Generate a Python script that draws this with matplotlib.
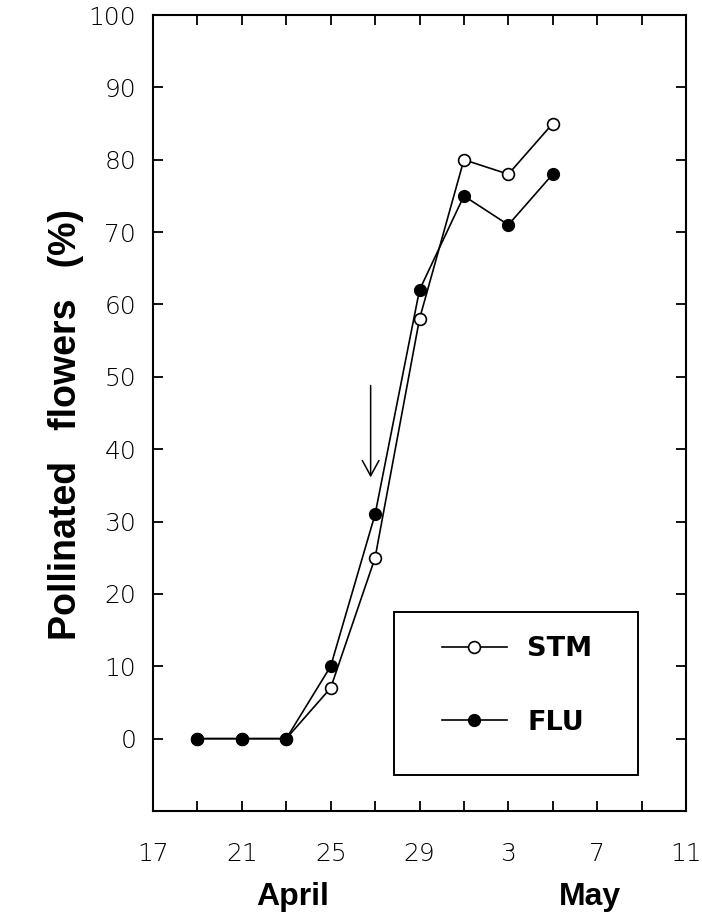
import matplotlib
matplotlib.use("Agg")
import matplotlib.pyplot as plt
import matplotlib.font_manager as fm
from matplotlib.lines import Line2D
from matplotlib.patches import Rectangle

# Day numbers counted from April (May 1 = 31)
days = [19, 21, 23, 25, 27, 29, 31, 33, 35]
stm = [0, 0, 0, 7, 25, 58, 80, 78, 85]
flu = [0, 0, 0, 10, 31, 62, 75, 71, 78]

xtick_major = [17, 21, 25, 29, 33, 37, 41]
xtick_labels = ["17", "21", "25", "29", "3", "7", "11"]
xtick_minor = [19, 23, 27, 31, 35, 39]
ytick_vals = [0, 10, 20, 30, 40, 50, 60, 70, 80, 90, 100]
series_names = ["STM", "FLU"]
month_names = ["April", "May"]
ylabel_text = "Pollinated   flowers   (%)"

arrow_x = 26.8
arrow_from = 48.8
arrow_to = 36.1

ylab_prop = fm.FontProperties(family="Liberation Sans", weight="bold")

fig = plt.figure(figsize=(7.02, 9.19), dpi=100)
ax = fig.add_axes([153/702, 1 - 811/919, 533/702, 796/919])

ax.plot(days, stm, color="black", lw=1.2, marker="o", markersize=8.5,
        markerfacecolor="white", markeredgecolor="black", markeredgewidth=1.2, zorder=3)
ax.plot(days, flu, color="black", lw=1.2, marker="o", markersize=8.5,
        markerfacecolor="black", markeredgecolor="black", zorder=4)

ax.annotate("", xy=(arrow_x, arrow_to), xytext=(arrow_x, arrow_from),
            arrowprops=dict(arrowstyle="->,head_length=0.55,head_width=0.3",
                            lw=1.1, color="black", mutation_scale=20,
                            shrinkA=0, shrinkB=0))

ax.set_xlim(17, 41)
ax.set_ylim(-10, 100)
ax.set_xticks(xtick_major)
ax.set_xticklabels(xtick_labels)
ax.set_xticks(xtick_minor, minor=True)
ax.set_yticks(ytick_vals)
ax.set_yticklabels([str(v) for v in ytick_vals])

ax.tick_params(axis="both", which="both", direction="in", length=7.5, width=1.3,
               top=True, right=True, labelsize=18)
ax.tick_params(axis="x", which="both", pad=22)
ax.tick_params(axis="y", which="both", pad=12)
for lab in ax.get_xticklabels() + ax.get_yticklabels():
    lab.set_fontfamily("DejaVu Sans")
    lab.set_fontweight("light")

for sp in ax.spines.values():
    sp.set_linewidth(1.5)

fig.text(66/702, 1 - 425/919, ylabel_text, rotation=90, ha="center",
         va="center", fontproperties=ylab_prop, fontsize=27)

# Legend box
ax.add_patch(Rectangle((0.452, 0.045), 0.458, 0.205, transform=ax.transAxes,
                       fill=False, edgecolor="black", lw=1.4, zorder=5))
handles = [
    Line2D([], [], color="black", lw=1.2, marker="o", markersize=8.5,
           markerfacecolor="white", markeredgecolor="black", markeredgewidth=1.2),
    Line2D([], [], color="black", lw=1.2, marker="o", markersize=8.5,
           markerfacecolor="black", markeredgecolor="black"),
]
leg = ax.legend(handles, series_names, loc="center left",
                bbox_to_anchor=(0.542, 0.157), frameon=False,
                borderpad=0, borderaxespad=0, handlelength=2.4,
                handletextpad=0.75, labelspacing=1.75,
                prop=dict(family="DejaVu Sans", weight="bold", size=19.5))

fig.text(293/702, 1 - 897/919, month_names[0], ha="center", va="center",
         fontsize=23, fontweight="bold", family="Liberation Sans")
fig.text(590/702, 1 - 897/919, month_names[1], ha="center", va="center",
         fontsize=23, fontweight="bold", family="Liberation Sans")

fig.savefig("out.png", dpi=100)
